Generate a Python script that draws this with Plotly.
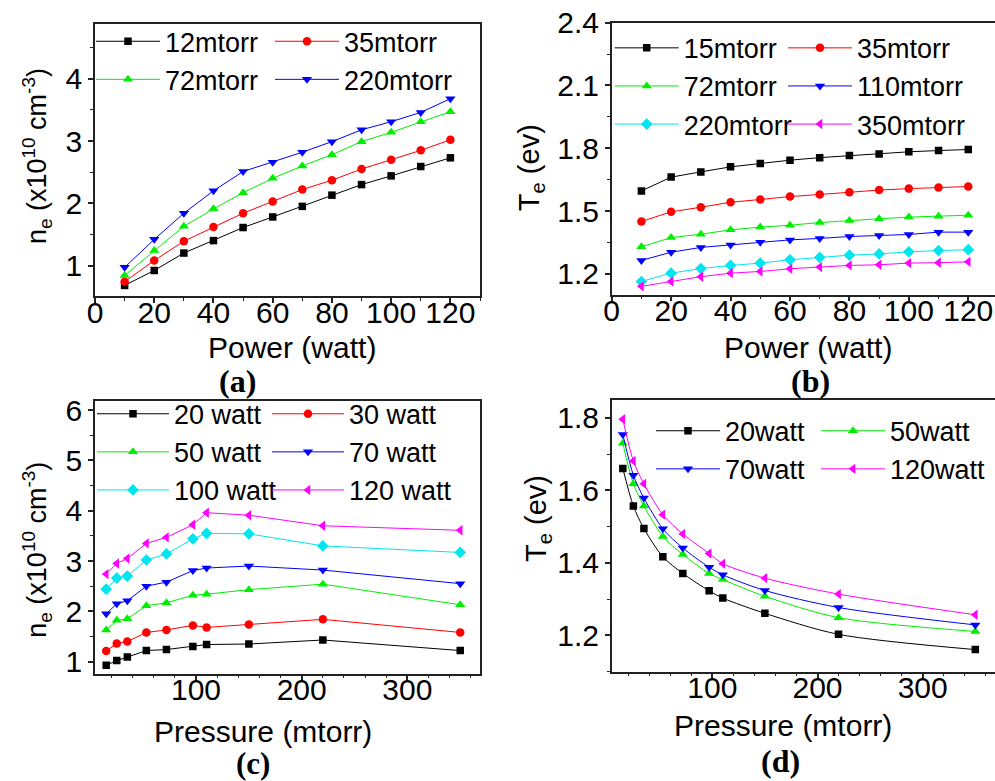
import plotly.graph_objects as go

W, H = 995, 781

# ---------------- data ----------------
power = [10, 20, 30, 40, 50, 60, 70, 80, 90, 100, 110, 120]
pressure = [15, 25, 35, 53, 72, 97, 110, 150, 220, 350]

# (a) electron density vs power
a_names = ["12mtorr", "35mtorr", "72mtorr", "220mtorr"]
a_12 = [0.68, 0.92, 1.20, 1.40, 1.61, 1.78, 1.95, 2.13, 2.30, 2.44, 2.59, 2.73]
a_35 = [0.74, 1.08, 1.39, 1.62, 1.84, 2.03, 2.22, 2.37, 2.55, 2.70, 2.85, 3.02]
a_72 = [0.84, 1.24, 1.63, 1.91, 2.17, 2.40, 2.60, 2.78, 2.99, 3.14, 3.31, 3.47]
a_220 = [0.97, 1.42, 1.84, 2.20, 2.51, 2.66, 2.82, 2.99, 3.18, 3.31, 3.46, 3.68]

# (b) electron temperature vs power
b_names = ["15mtorr", "35mtorr", "72mtorr", "110mtorr", "220mtorr", "350mtorr"]
b_15 = [1.596, 1.662, 1.687, 1.711, 1.727, 1.743, 1.755, 1.765, 1.773, 1.783, 1.789, 1.794]
b_35 = [1.450, 1.496, 1.518, 1.542, 1.555, 1.569, 1.579, 1.590, 1.600, 1.607, 1.612, 1.617]
b_72 = [1.329, 1.373, 1.389, 1.410, 1.423, 1.432, 1.445, 1.455, 1.463, 1.471, 1.475, 1.480]
b_110 = [1.264, 1.303, 1.326, 1.338, 1.351, 1.362, 1.369, 1.378, 1.383, 1.388, 1.399, 1.399]
b_220 = [1.163, 1.203, 1.225, 1.240, 1.251, 1.267, 1.278, 1.289, 1.295, 1.305, 1.311, 1.315]
b_350 = [1.140, 1.163, 1.186, 1.203, 1.211, 1.224, 1.232, 1.240, 1.243, 1.251, 1.253, 1.257]

# (c) electron density vs pressure
c_names = ["20 watt", "30 watt", "50 watt", "70 watt", "100 watt", "120 watt"]
c_20 = [0.93, 1.02, 1.09, 1.22, 1.24, 1.30, 1.34, 1.35, 1.43, 1.22]
c_30 = [1.21, 1.36, 1.40, 1.58, 1.63, 1.72, 1.68, 1.74, 1.84, 1.58]
c_50 = [1.63, 1.82, 1.85, 2.11, 2.17, 2.32, 2.34, 2.43, 2.54, 2.13]
c_70 = [1.95, 2.15, 2.21, 2.50, 2.58, 2.81, 2.86, 2.90, 2.82, 2.55]
c_100 = [2.44, 2.66, 2.70, 3.02, 3.14, 3.44, 3.55, 3.54, 3.30, 3.17]
c_120 = [2.74, 2.95, 3.05, 3.35, 3.47, 3.72, 3.96, 3.91, 3.70, 3.61]

# (d) electron temperature vs pressure
d_names = ["20watt", "50watt", "70watt", "120watt"]
d_20 = [1.660, 1.557, 1.495, 1.417, 1.371, 1.323, 1.303, 1.261, 1.203, 1.161]
d_50 = [1.730, 1.618, 1.557, 1.473, 1.423, 1.371, 1.354, 1.308, 1.249, 1.211]
d_70 = [1.754, 1.642, 1.579, 1.494, 1.441, 1.388, 1.367, 1.324, 1.277, 1.229]
d_120 = [1.796, 1.681, 1.618, 1.533, 1.480, 1.426, 1.398, 1.358, 1.314, 1.257]

# ---------------- style ----------------
FONT = "Liberation Sans, Arial, sans-serif"
SERIF = "Liberation Serif, Times New Roman, serif"
BLACK, RED, GREEN, BLUE, CYAN, MAGENTA = "#000000", "#ff0000", "#00ee00", "#0000ff", "#00e5ee", "#ff00ff"


def px(x):
    return x / W


def py(y):
    return 1 - y / H


fig = go.Figure()


def add(xs, ys, name, color, symbol, size, xa, ya, legend, shape="linear"):
    fig.add_trace(go.Scatter(
        x=xs, y=ys, name=name, mode="lines+markers",
        line=dict(color=color, width=1, shape=shape, smoothing=0.8),
        marker=dict(color=color, symbol=symbol, size=size, line=dict(width=0)),
        xaxis=xa, yaxis=ya, legend=legend))


SQ, CI, TR = 7.5, 8.5, 9
# (a)
add(power, a_12, a_names[0], BLACK, "square", SQ, "x", "y", "legend")
add(power, a_35, a_names[1], RED, "circle", CI, "x", "y", "legend2")
add(power, a_72, a_names[2], GREEN, "triangle-up", TR, "x", "y", "legend")
add(power, a_220, a_names[3], BLUE, "triangle-down", TR, "x", "y", "legend2")
# (b)
add(power, b_15, b_names[0], BLACK, "square", SQ, "x2", "y2", "legend3")
add(power, b_35, b_names[1], RED, "circle", CI, "x2", "y2", "legend4")
add(power, b_72, b_names[2], GREEN, "triangle-up", TR, "x2", "y2", "legend3")
add(power, b_110, b_names[3], BLUE, "triangle-down", TR, "x2", "y2", "legend4")
add(power, b_220, b_names[4], CYAN, "diamond", TR, "x2", "y2", "legend3")
add(power, b_350, b_names[5], MAGENTA, "triangle-left", TR, "x2", "y2", "legend4")
# (c)
add(pressure, c_20, c_names[0], BLACK, "square", SQ, "x3", "y3", "legend5")
add(pressure, c_30, c_names[1], RED, "circle", CI, "x3", "y3", "legend6")
add(pressure, c_50, c_names[2], GREEN, "triangle-up", TR, "x3", "y3", "legend5")
add(pressure, c_70, c_names[3], BLUE, "triangle-down", TR, "x3", "y3", "legend6")
add(pressure, c_100, c_names[4], CYAN, "diamond", TR, "x3", "y3", "legend5")
add(pressure, c_120, c_names[5], MAGENTA, "triangle-left", TR, "x3", "y3", "legend6")
# (d)
add(pressure, d_20, d_names[0], BLACK, "square", SQ, "x4", "y4", "legend7", "spline")
add(pressure, d_50, d_names[1], GREEN, "triangle-up", TR, "x4", "y4", "legend8", "spline")
add(pressure, d_70, d_names[2], BLUE, "triangle-down", TR, "x4", "y4", "legend7", "spline")
add(pressure, d_120, d_names[3], MAGENTA, "triangle-left", TR, "x4", "y4", "legend8", "spline")


def axis(domain, rng, dtick, minor, anchor, standoff=0):
    return dict(domain=domain, range=rng, dtick=dtick, tick0=0, anchor=anchor,
                automargin=False, ticklabelstandoff=standoff,
                showgrid=False, zeroline=False, showline=True, linecolor="#222",
                linewidth=1.5, mirror=True, ticks="outside", ticklen=5, tickwidth=1.5,
                tickcolor="#222", tickfont=dict(size=30, color="black", family=FONT),
                minor=dict(dtick=minor, ticks="outside", ticklen=3, tickwidth=1.2,
                           tickcolor="#222", showgrid=False))


xa_dom = [px(95), px(480)]
xb_dom = [px(611.7), 1.0]
XS = -16

layout = dict(
    template="none",
    width=W, height=H, margin=dict(l=0, r=0, t=0, b=0, autoexpand=False),
    paper_bgcolor="white", plot_bgcolor="white",
    font=dict(family=FONT, color="black"),
    xaxis=axis(xa_dom, [0, 130], 20, 10, "y", XS),
    yaxis=axis([py(296), py(24)], [0.51, 4.88], 1, 0.5, "x"),
    xaxis2=axis(xb_dom, [0, 129.0], 20, 10, "y2", XS),
    yaxis2=axis([py(294.7), py(22.7)], [1.1, 2.4], 0.3, 0.15, "x2"),
    xaxis3=axis(xa_dom, [4.4, 368.7], 100, 20, "y3", XS),
    yaxis3=axis([py(673.7), py(401)], [0.76, 6.18], 1, 0.5, "x3"),
    xaxis4=axis(xb_dom, [4.4, 368.7], 100, 20, "y4", XS),
    yaxis4=axis([py(671.7), py(399.7)], [1.1, 1.85], 0.2, 0.1, "x4"),
)


def leg(x, y, iw=66):
    return dict(x=px(x), y=py(y), xref="container", yref="container",
                xanchor="left", yanchor="top",
                bgcolor="rgba(0,0,0,0)", borderwidth=0,
                font=dict(size=27, family=FONT, color="black"),
                itemsizing="trace", itemwidth=iw, tracegroupgap=0)


layout["legend"] = leg(91, 17.2, 64)
layout["legend2"] = leg(270, 17.2, 64)
layout["legend3"] = leg(609.7, 23.8, 64)
layout["legend4"] = leg(783, 23.8, 64)
layout["legend5"] = leg(92, 389.7, 72)
layout["legend6"] = leg(267, 389.7, 72)
layout["legend7"] = leg(651, 406.7, 64)
layout["legend8"] = leg(816, 406.7, 64)

fig.update_layout(**layout)

ne_title = "n<sub>e</sub> (x10<sup>10</sup> cm<sup>-3</sup>)"
te_title = "T<sub>e</sub> (ev)"

texts = [
    ("Power (watt)", 291.7, 348, 0, FONT, 30),
    ("Power (watt)", 808, 347, 0, FONT, 30),
    ("Pressure (mtorr)", 263, 731, 0, FONT, 30),
    ("Pressure (mtorr)", 783, 725, 0, FONT, 30),
    (ne_title, 37, 156, -90, FONT, 27),
    (te_title, 531.7, 167.5, -90, FONT, 29),
    (ne_title, 36.7, 550, -90, FONT, 27),
    (te_title, 538, 519, -90, FONT, 29),
    ("<b>(a)</b>", 237.5, 381, 0, SERIF, 32),
    ("<b>(b)</b>", 810, 381, 0, SERIF, 32),
    ("<b>(c)</b>", 253, 763, 0, SERIF, 31),
    ("<b>(d)</b>", 780, 761, 0, SERIF, 32),
]
for t, x, y, ang, fam, size in texts:
    fig.add_annotation(text=t, x=px(x), y=py(y), xref="paper", yref="paper",
                       xanchor="center", yanchor="middle", textangle=ang,
                       showarrow=False, font=dict(family=fam, size=size, color="black"))

fig.write_html("out.html", config={"displayModeBar": False},
               post_script="document.body.style.margin='0px';")
